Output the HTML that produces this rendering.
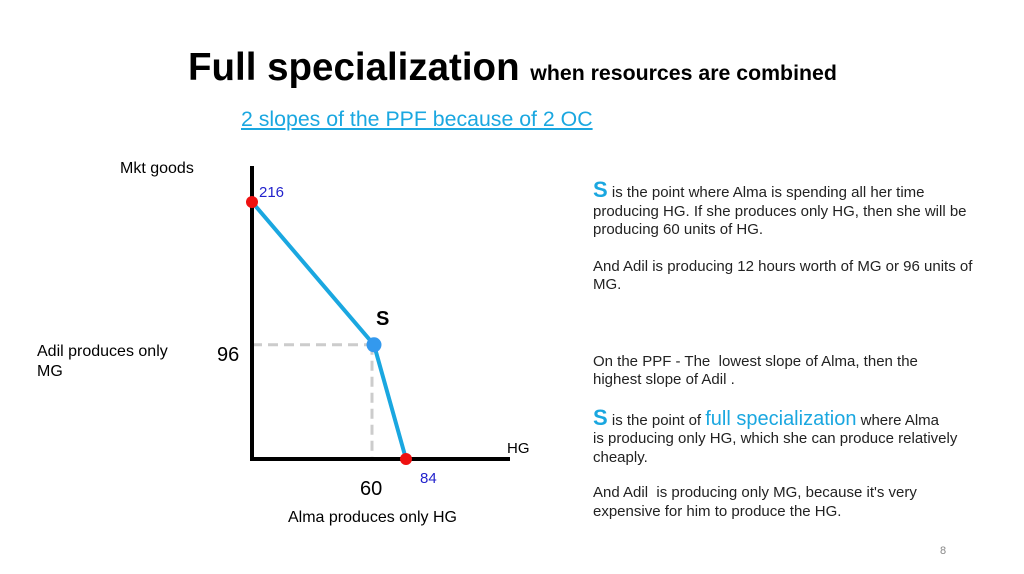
<!DOCTYPE html>
<html><head><meta charset="utf-8"><style>
body{margin:0;width:1024px;height:574px;background:#fff;overflow:hidden;font-family:"Liberation Sans",sans-serif;position:relative}
.t{position:absolute;white-space:nowrap}
p{margin:0}
</style></head><body>
<div class="t" style="left:188px;top:46px;font-size:38.5px;font-weight:bold;color:#000">Full specialization <span style="font-size:21.3px">when resources are combined</span></div>
<div class="t" style="left:241px;top:107px;font-size:21.3px;color:#1aa7e0;text-decoration:underline">2 slopes of the PPF because of 2 OC</div>
<div class="t" style="left:120px;top:160px;font-size:16px">Mkt goods</div>
<div class="t" style="left:37px;top:342px;font-size:16px;line-height:20px">Adil produces only<br>MG</div>
<div class="t" style="left:288px;top:509px;font-size:16px">Alma produces only HG</div>
<div class="t" style="left:593px;top:181px;font-size:15px;line-height:18.5px;color:#222">
<p><span style="font-size:22px;color:#1aa7e0;font-weight:bold">S</span> is the point where Alma is spending all her time<br>producing HG. If she produces only HG, then she will be<br>producing 60 units of HG.</p>
<p style="margin-top:18px">And Adil is producing 12 hours worth of MG or 96 units of<br>MG.</p>
<p style="margin-top:58px">On the PPF - The &nbsp;lowest slope of Alma, then the<br>highest slope of Adil .</p>
<p style="margin-top:19px"><span style="font-size:22px;color:#1aa7e0;font-weight:bold">S</span> is the point of <span style="font-size:20px;color:#1aa7e0">full specialization</span> where Alma<br>is producing only HG, which she can produce relatively<br>cheaply.</p>
<p style="margin-top:17px">And Adil &nbsp;is producing only MG, because it's very<br>expensive for him to produce the HG.</p>
</div>
<div class="t" style="left:940px;top:545px;font-size:11px;color:#888">8</div>
<svg id="c" width="1024" height="574" style="position:absolute;left:0;top:0"></svg>
<script>
const hgValues=[0,60,84];
const mgValues=[216,96,0];
const pointLabels=["216","S","84"];
const NS="http://www.w3.org/2000/svg";
const svg=document.getElementById('c');
const x0=252,y0=459;
function xs(v){return v<=60? x0+v*(374-x0)/60 : 374+(v-60)*(406-374)/24;}
const ys=v=>y0-v*(y0-202)/216;
function el(t,a,name){const e=document.createElementNS(NS,t);for(const k in a)e.setAttribute(k,a[k]);


svg.appendChild(e);return e;}
el('line',{x1:x0,y1:ys(96),x2:xs(60),y2:ys(96),stroke:'#ccc','stroke-width':3,'stroke-dasharray':'10,6'},'guide-96');
el('line',{x1:xs(60)-2,y1:ys(96),x2:xs(60)-2,y2:y0,stroke:'#ccc','stroke-width':3,'stroke-dasharray':'10,6'},'guide-60');
el('line',{x1:x0,y1:166,x2:x0,y2:y0+2,stroke:'#000','stroke-width':4},'y-axis');
el('line',{x1:x0-2,y1:y0,x2:510,y2:y0,stroke:'#000','stroke-width':4},'x-axis');
el('polyline',{points:hgValues.map((v,i)=>xs(v)+','+ys(mgValues[i])).join(' '),fill:'none',stroke:'#1aa7e0','stroke-width':4},'ppf-line');
hgValues.forEach((v,i)=>{
 const mid=i===1;
 el('circle',{cx:xs(v),cy:ys(mgValues[i]),r:mid?7.5:6,fill:mid?'#3399ee':'#ee1111'},'point-'+pointLabels[i]);
});
function txt(x,y,s,size,col,name,w){const e=el('text',{x:x,y:y,'font-size':size,fill:col,'font-family':'Liberation Sans, sans-serif','font-weight':w||'normal'},name);e.textContent=s;}
txt(xs(0)+7,ys(216)-5,pointLabels[0],15,'#2222cc','label-216');
txt(xs(60)+2,ys(96)-20,pointLabels[1],20,'#000','label-s','bold');
txt(xs(84)+14,y0+24,pointLabels[2],15,'#2222cc','label-84');
txt(217,361,'96',20,'#000','tick-96');
txt(360,495,'60',20,'#000','tick-60');
txt(507,453,'HG',15,'#000','label-hg');
</script>
</body></html>
